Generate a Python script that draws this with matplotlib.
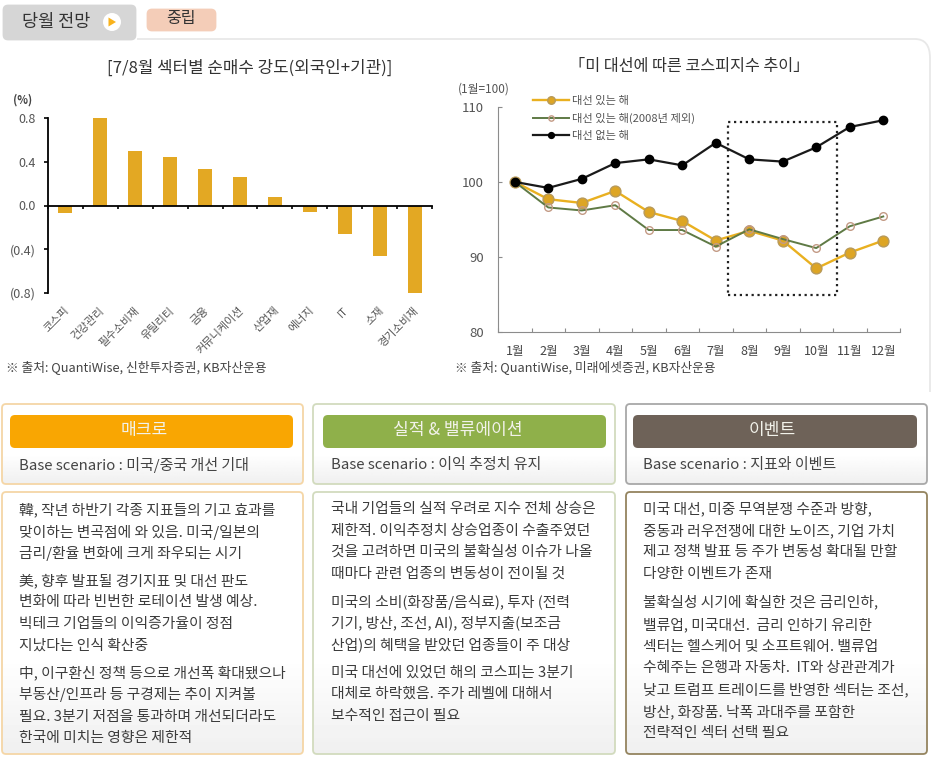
from matplotlib.patches import FancyBboxPatch, Circle, Polygon, PathPatch, Rectangle
from matplotlib.path import Path

import matplotlib.pyplot as plt
import numpy as np

plt.rcParams['font.family'] = ['Noto Sans CJK KR', 'DejaVu Sans']


class OutlookVizualizer:
    def __init__(self) -> None:
        pass

    def get_header_and_panels(self):
        # Full page axes in pixels, everything that is not a chart goes here
        plt.axes([0, 0, 1, 1])
        plt.xlim(0, 931)
        plt.ylim(757, 0)
        plt.axis('off')
        ax = plt.gca()

        # Top tab and the pill next to it
        ax.add_patch(PathPatch(Path([(137, 39), (915, 39), (930, 39), (930, 58), (930, 392)],
                                    [Path.MOVETO, Path.LINETO, Path.CURVE3, Path.CURVE3, Path.LINETO]),
                               facecolor='none', edgecolor='#E8E8E8', linewidth=1.3))
        ax.add_patch(FancyBboxPatch((4, 6), 131, 33, boxstyle='round,pad=0,rounding_size=4',
                                    facecolor='#D6D6D6', edgecolor='#D6D6D6', linewidth=2))
        plt.text(56.5, 22, '당월 전망', fontsize=12.6, fontweight='medium', color='#333333', ha='center', va='center')
        ax.add_patch(Circle((112, 22), 9, facecolor='white', edgecolor='none'))
        ax.add_patch(Polygon([(108.5, 17.5), (108.5, 26.5), (116, 22)], facecolor='#F9B21B', edgecolor='none'))
        ax.add_patch(FancyBboxPatch((148, 10), 67, 20, boxstyle='round,pad=0,rounding_size=4',
                                    facecolor='#F4CDB8', edgecolor='#F4CDB8', linewidth=2))
        plt.text(181, 18, '중립', fontsize=11.5, color='#333333', ha='center', va='center')

        plt.text(250, 68, '[7/8월 섹터별 순매수 강도(외국인+기관)]', fontsize=12.1, color='#333333', ha='center', va='center')
        plt.text(689, 67, '「미 대선에 따른 코스피지수 추이」', fontsize=11.7, color='#333333', ha='center', va='center')
        plt.text(6, 367, '※ 출처: QuantiWise, 신한투자증권, KB자산운용', fontsize=9.2, color='#444444', va='center')
        plt.text(455, 367, '※ 출처: QuantiWise, 미래에셋증권, KB자산운용', fontsize=9.2, color='#444444', va='center')

        panels = [
            {'x': 2, 'w': 301, 'bar_x': 10, 'bar_w': 283, 'color': '#F9A602', 'edge': '#F5D6A6', 'edge2': '#F5D6A6',
             'title': '매크로', 'title_x': 144.5, 'scenario': 'Base scenario : 미국/중국 개선 기대', 'text_x': 19,
             'lines': [(510, '韓, 작년 하반기 각종 지표들의 기고 효과를'), (532, '맞이하는 변곡점에 와 있음. 미국/일본의'),
                       (553, '금리/환율 변화에 크게 좌우되는 시기'), (581, '美, 향후 발표될 경기지표 및 대선 판도'),
                       (602, '변화에 따라 빈번한 로테이션 발생 예상.'), (624, '빅테크 기업들의 이익증가율이 정점'),
                       (646, '지났다는 인식 확산중'), (673, '中, 이구환신 정책 등으로 개선폭 확대됐으나'),
                       (695, '부동산/인프라 등 구경제는 추이 지켜볼'), (717, '필요. 3분기 저점을 통과하며 개선되더라도'),
                       (738, '한국에 미치는 영향은 제한적')]},
            {'x': 313, 'w': 302, 'bar_x': 323, 'bar_w': 283, 'color': '#8FB04A', 'edge': '#D2DBBE', 'edge2': '#D2DBBE',
             'title': '실적 & 밸류에이션', 'title_x': 458, 'scenario': 'Base scenario : 이익 추정치 유지', 'text_x': 331,
             'lines': [(509, '국내 기업들의 실적 우려로 지수 전체 상승은'), (531, '제한적. 이익추정치 상승업종이 수출주였던'),
                       (552, '것을 고려하면 미국의 불확실성 이슈가 나올'), (574, '때마다 관련 업종의 변동성이 전이될 것'),
                       (602, '미국의 소비(화장품/음식료), 투자 (전력'), (623, '기기, 방산, 조선, AI), 정부지출(보조금'),
                       (645, '산업)의 혜택을 받았던 업종들이 주 대상'), (673, '미국 대선에 있었던 해의 코스피는 3분기'),
                       (694, '대체로 하락했음. 주가 레벨에 대해서'), (716, '보수적인 접근이 필요')]},
            {'x': 626, 'w': 301, 'bar_x': 633, 'bar_w': 284, 'color': '#6E6258', 'edge': '#A8A8A8', 'edge2': '#94845F',
             'title': '이벤트', 'title_x': 772, 'scenario': 'Base scenario : 지표와 이벤트', 'text_x': 643,
             'lines': [(509, '미국 대선, 미중 무역분쟁 수준과 방향,'), (531, '중동과 러우전쟁에 대한 노이즈, 기업 가치'),
                       (552, '제고 정책 발표 등 주가 변동성 확대될 만할'), (574, '다양한 이벤트가 존재'),
                       (602, '불확실성 시기에 확실한 것은 금리인하,'), (625, '밸류업, 미국대선.  금리 인하기 유리한'),
                       (647, '섹터는 헬스케어 및 소프트웨어. 밸류업'), (668, '수혜주는 은행과 자동차.  IT와 상관관계가'),
                       (690, '낮고 트럼프 트레이드를 반영한 섹터는 조선,'), (712, '방산, 화장품. 낙폭 과대주를 포함한'),
                       (733, '전략적인 섹터 선택 필요')]},
        ]

        # white for most of the box, light grey only near the bottom
        fade = np.concatenate([np.ones(40), np.linspace(1, 0.94, 24)]).reshape(-1, 1)
        for panel in panels:
            for top, bottom, edge in [(404, 484, panel['edge']), (492, 754, panel['edge2'])]:
                box = FancyBboxPatch((panel['x'], top), panel['w'], bottom - top, boxstyle='round,pad=0,rounding_size=4',
                                     facecolor='none', edgecolor=edge, linewidth=1.3, zorder=3)
                ax.add_patch(box)
                img = plt.imshow(fade, cmap='gray', vmin=0, vmax=1, aspect='auto', zorder=1,
                                 extent=(panel['x'], panel['x'] + panel['w'], bottom, top))
                img.set_clip_path(box)
            ax.add_patch(FancyBboxPatch((panel['bar_x'], 415), panel['bar_w'], 33, boxstyle='round,pad=0,rounding_size=5',
                                        facecolor=panel['color'], edgecolor='none', zorder=4))
            plt.text(panel['title_x'], 430, panel['title'], fontsize=12.3, color='#F2F2EA',
                     ha='center', va='center', zorder=5)
            plt.text(panel['text_x'], 465, panel['scenario'], fontsize=10.8, color='#444444', va='center', zorder=5)
            for y, line in panel['lines']:
                plt.text(panel['text_x'], y, line, fontsize=10.65, color='#3C3C3C', va='center', zorder=5)

        # imshow resets the limits
        plt.xlim(0, 931)
        plt.ylim(757, 0)

    def get_infographics_sectors(self):
        sectors = ['코스피', '건강관리', '필수소비재', '유틸리티', '금융', '커뮤니케이션', '산업재', '에너지', 'IT', '소재', '경기소비재']
        values = [-0.07, 0.80, 0.50, 0.44, 0.33, 0.26, 0.08, -0.06, -0.26, -0.46, -0.80]

        plt.axes([48 / 931, 1 - 293 / 757, 384 / 931, 175 / 757], facecolor='none')
        plt.bar(range(len(sectors)), values, width=0.4, color='#E3A823')
        plt.xlim(-0.5, 10.5)
        plt.ylim(-0.8, 0.8)
        ax = plt.gca()
        ax.spines['top'].set_visible(False)
        ax.spines['right'].set_visible(False)
        ax.spines['left'].set_linewidth(1.3)
        ax.spines['bottom'].set_position(('data', 0))
        ax.spines['bottom'].set_linewidth(1.3)
        plt.xticks(np.arange(-0.5, 11), [])
        plt.yticks([-0.8, -0.4, 0, 0.4, 0.8], ['(0.8)', '(0.4)', '0.0', '0.4', '0.8'], fontsize=9, color='#555555')
        plt.tick_params(axis='x', direction='out', length=2.5, width=1.2)
        plt.tick_params(axis='y', direction='out', length=3, width=1.2, pad=6)

        # Sector names hang below the plot, not below the zero line
        for i, sector in enumerate(sectors):
            plt.text(i - 0.04, -0.07, sector, transform=ax.get_xaxis_transform(), fontsize=8, color='#555555',
                     rotation=45, ha='right', va='top', rotation_mode='anchor')
        plt.text(-0.04, 1.10, '(%)', transform=ax.transAxes, fontsize=8, fontweight='bold', color='#444444',
                 ha='right', va='center')

    def get_infographics_kospi(self):
        months = ['1월', '2월', '3월', '4월', '5월', '6월', '7월', '8월', '9월', '10월', '11월', '12월']
        election = [100, 97.7, 97.2, 98.8, 96.0, 94.8, 92.2, 93.5, 92.2, 88.5, 90.6, 92.2]
        election_ex_2008 = [100, 96.6, 96.2, 96.9, 93.6, 93.6, 91.4, 93.7, 92.4, 91.2, 94.1, 95.4]
        no_election = [100, 99.2, 100.4, 102.5, 103.0, 102.2, 105.2, 103.0, 102.7, 104.6, 107.3, 108.2]

        plt.axes([498 / 931, 1 - 332.3 / 757, 402 / 931, 225.6 / 757], facecolor='none')
        x = np.arange(len(months))
        plt.plot(x, election, color='#E9B020', linewidth=1.7, marker='o', markersize=7.8,
                 markerfacecolor='#DDA524', markeredgecolor='#B89A5A', label='대선 있는 해')
        plt.plot(x, election_ex_2008, color='#5F7A45', linewidth=1.4, marker='o', markersize=5.5,
                 markerfacecolor='none', markeredgecolor='#C39A85', label='대선 있는 해(2008년 제외)')
        plt.plot(x, no_election, color='#1A1A1A', linewidth=1.6, marker='o', markersize=6,
                 markerfacecolor='black', markeredgecolor='black', label='대선 없는 해')
        plt.xlim(-0.5, 11.5)
        plt.ylim(80, 110)
        ax = plt.gca()
        ax.spines['top'].set_visible(False)
        ax.spines['right'].set_visible(False)
        ax.spines['left'].set_color('#8C8C8C')
        ax.spines['bottom'].set_color('#8C8C8C')
        plt.xticks(np.arange(-0.5, 12), [])
        plt.xticks(x, months, minor=True, fontsize=9, color='#444444')
        plt.yticks([80, 90, 100, 110], fontsize=9.5, color='#555555')
        plt.tick_params(axis='x', which='major', direction='in', length=3, color='#8C8C8C')
        plt.tick_params(axis='x', which='minor', length=0, pad=9)
        plt.tick_params(axis='y', direction='in', length=3, color='#8C8C8C', pad=10)

        # Dotted box around the third quarter
        ax.add_patch(Rectangle((6.37, 85), 3.25, 23, facecolor='none', edgecolor='#222222', linestyle=':', linewidth=1.6, zorder=4))

        plt.legend(loc='upper left', bbox_to_anchor=(0.072, 1.075), frameon=False, fontsize=8.1, labelcolor='#555555',
                   handlelength=3.2, handletextpad=0.3, labelspacing=0.62, borderpad=0, markerscale=0.7)
        plt.text(-0.035, 1.08, '(1월=100)', transform=ax.transAxes, fontsize=8.5, color='#555555', ha='center', va='center')


viz = OutlookVizualizer()
plt.figure(figsize=(9.31, 7.57), dpi=100)
viz.get_header_and_panels()
viz.get_infographics_sectors()
viz.get_infographics_kospi()
plt.savefig('out.png', dpi=100)
plt.close()
